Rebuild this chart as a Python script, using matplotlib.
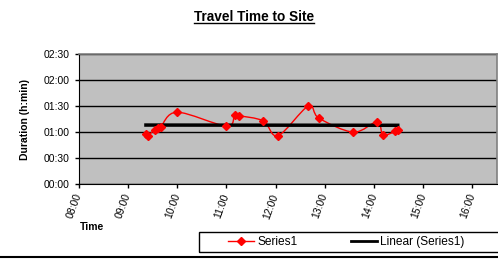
import numpy as np
import matplotlib
matplotlib.use("Agg")
import matplotlib.pyplot as plt
from matplotlib.path import Path
from matplotlib.patches import PathPatch, Rectangle
from matplotlib.lines import Line2D
from matplotlib.ticker import FuncFormatter, MultipleLocator

plt.rcParams['font.family'] = ['Liberation Sans', 'DejaVu Sans']

# data (time of day, travel duration h:mm)
times = ["09:22", "09:24", "09:33", "09:37", "09:40", "10:00", "11:00", "11:10",
         "11:15", "11:45", "12:03", "12:40", "12:53", "13:35", "14:04", "14:11",
         "14:26", "14:29"]
durations = ["00:58", "00:56", "01:03", "01:05", "01:06", "01:23", "01:07", "01:20",
             "01:19", "01:13", "00:56", "01:30", "01:16", "01:00", "01:12", "00:57",
             "01:01", "01:03"]
x_ticks = ["08:00", "09:00", "10:00", "11:00", "12:00", "13:00", "14:00", "15:00", "16:00"]


def to_hours(s):
    h, m = s.split(":")
    return int(h) + int(m) / 60.0


x = np.array([to_hours(t) for t in times])
y = np.array([to_hours(d) for d in durations])

fig = plt.figure(figsize=(4.98, 2.62), dpi=100)
ax = fig.add_axes([0.158, 0.2966, 0.84, 0.4974])
ax.set_facecolor("#c0c0c0")

# smoothed line like Excel (Catmull-Rom -> cubic bezier)
pts = np.column_stack([x, y])
ext = np.vstack([pts[0], pts, pts[-1]])
verts = [pts[0]]
codes = [Path.MOVETO]
for i in range(1, len(ext) - 2):
    p0, p1, p2, p3 = ext[i - 1], ext[i], ext[i + 1], ext[i + 2]
    verts += [p1 + (p2 - p0) / 6, p2 - (p3 - p1) / 6, p2]
    codes += [Path.CURVE4] * 3
ax.add_patch(PathPatch(Path(verts, codes), fill=False, edgecolor="#ff0000", lw=1, zorder=3))
ax.plot(x, y, ls="none", marker="D", ms=4.5, color="#ff0000", zorder=4)

# linear trendline
k, b = np.polyfit(x, y, 1)
xt = np.array([x.min(), x.max()])
ax.plot(xt, k * xt + b, color="black", lw=2.5, zorder=3)

ax.set_xlim(8, 16.5)
ax.set_ylim(0, 2.5)
ax.yaxis.set_major_locator(MultipleLocator(0.5))
ax.yaxis.set_major_formatter(FuncFormatter(lambda v, p: "%02d:%02d" % (int(v), round((v % 1) * 60))))
ax.set_xticks([to_hours(t) for t in x_ticks])
ax.set_xticklabels(x_ticks, rotation=70, ha="right", va="center", rotation_mode="anchor")
ax.grid(axis="y", color="black", lw=1)
ax.set_axisbelow(True)
ax.tick_params(labelsize=7.5, length=3, width=1, direction="out", colors="black")
ax.tick_params(axis="x", pad=4)
for s in ["top", "right"]:
    ax.spines[s].set_color("#808080")
    ax.spines[s].set_linewidth(1.2)
for s in ["left", "bottom"]:
    ax.spines[s].set_color("black")

title = fig.text(0.51, 0.935, "Travel Time to Site", ha="center", va="center",
                 fontsize=9.8, fontweight="bold")
fig.text(0.05, 0.545, "Duration (h:min)", rotation=90, ha="center", va="center",
         fontsize=7.5, fontweight="bold")
fig.text(0.16, 0.133, "Time", ha="left", va="center", fontsize=7.5, fontweight="bold")

# underline for title
fig.canvas.draw()
bb = title.get_window_extent().transformed(fig.transFigure.inverted())
fig.add_artist(Line2D([bb.x0, bb.x1], [bb.y0 + 0.004, bb.y0 + 0.004], color="black", lw=1))

# legend box
fig.add_artist(Rectangle((199 / 498, 1 - 252 / 262), 0.62, 20 / 262, transform=fig.transFigure,
                         fill=False, edgecolor="black", lw=1))
handles = [Line2D([], [], color="#ff0000", lw=1, marker="D", ms=4.5),
           Line2D([], [], color="black", lw=2)]
fig.legend(handles, ["Series1", "Linear (Series1)"], ncol=2, loc="center left",
           bbox_to_anchor=(228 / 498, 1 - 242 / 262), fontsize=8.6, frameon=False,
           handlelength=2.2, handletextpad=0.3, columnspacing=4.4,
           borderaxespad=0, borderpad=0)

fig.add_artist(Line2D([0, 1], [0.02, 0.02], color="black", lw=1.5))

fig.savefig("out.png", dpi=100)
